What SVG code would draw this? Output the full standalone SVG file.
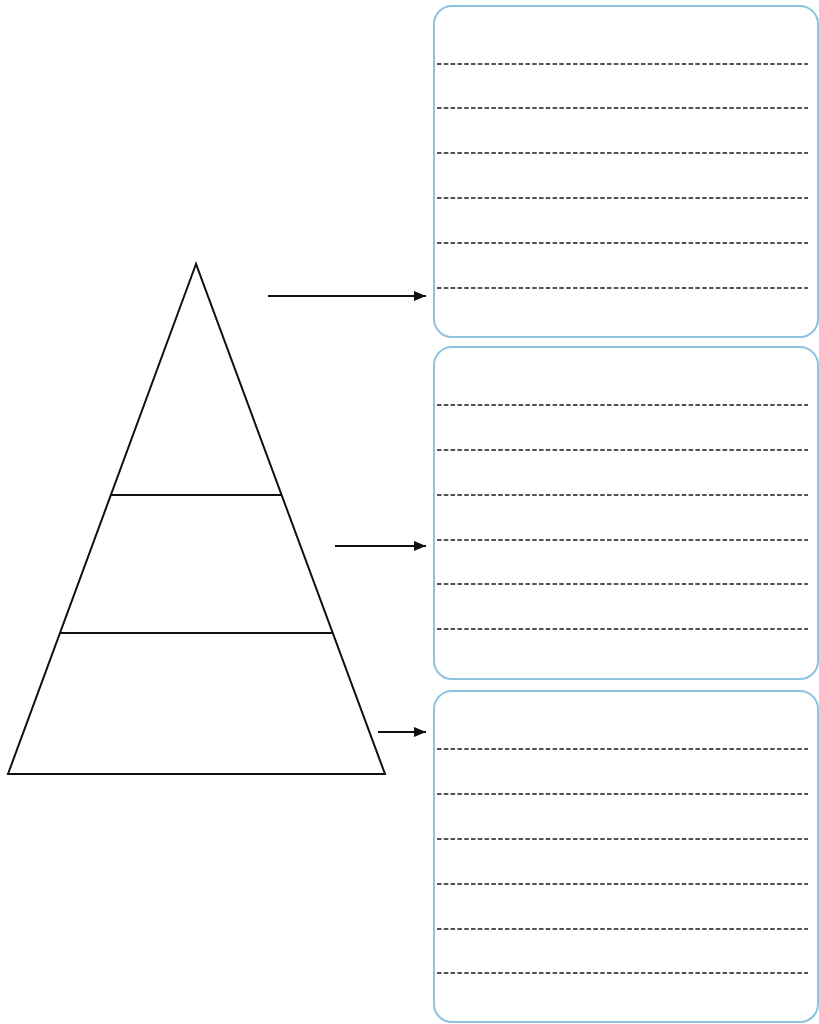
<svg xmlns="http://www.w3.org/2000/svg" width="819" height="1024" viewBox="0 0 819 1024">
<style>
.box{fill:#ffffff;stroke:#8dc3e0;stroke-width:2}
.dash{stroke:#1a1a1a;stroke-width:1.5;stroke-dasharray:4.5 2.3;fill:none}
.pyr{fill:none;stroke:#111111;stroke-width:2;stroke-linejoin:miter}
.arrow{stroke:#111111;stroke-width:2;fill:none}
</style>
<defs>
<marker id="ah" viewBox="0 0 12 10" refX="12" refY="5" markerWidth="12" markerHeight="10" markerUnits="userSpaceOnUse" orient="auto">
<path d="M0,0 L12,5 L0,10 Z" fill="#111111"/>
</marker>
</defs>
<rect width="819" height="1024" fill="#ffffff"/>
<g id="pyramid">
<path class="pyr" d="M196,264 L8,774 L385,774 Z"/>
<line class="pyr" x1="111" y1="495" x2="282" y2="495"/>
<line class="pyr" x1="60" y1="633" x2="333" y2="633"/>
</g>
<g id="box1">
<rect class="box" x="434" y="6" width="384" height="331" rx="18"/>
<g class="dash">
<line x1="437" y1="64" x2="808" y2="64"/>
<line x1="437" y1="108" x2="808" y2="108"/>
<line x1="437" y1="153" x2="808" y2="153"/>
<line x1="437" y1="198" x2="808" y2="198"/>
<line x1="437" y1="243" x2="808" y2="243"/>
<line x1="437" y1="288" x2="808" y2="288"/>
</g>
</g>
<g id="box2">
<rect class="box" x="434" y="347" width="384" height="332" rx="18"/>
<g class="dash">
<line x1="437" y1="405" x2="808" y2="405"/>
<line x1="437" y1="450" x2="808" y2="450"/>
<line x1="437" y1="495" x2="808" y2="495"/>
<line x1="437" y1="540" x2="808" y2="540"/>
<line x1="437" y1="584" x2="808" y2="584"/>
<line x1="437" y1="629" x2="808" y2="629"/>
</g>
</g>
<g id="box3">
<rect class="box" x="434" y="691" width="384" height="331" rx="18"/>
<g class="dash">
<line x1="437" y1="749" x2="808" y2="749"/>
<line x1="437" y1="794" x2="808" y2="794"/>
<line x1="437" y1="839" x2="808" y2="839"/>
<line x1="437" y1="884" x2="808" y2="884"/>
<line x1="437" y1="929" x2="808" y2="929"/>
<line x1="437" y1="973" x2="808" y2="973"/>
</g>
</g>
<g id="connectors">
<line class="arrow" x1="268" y1="296" x2="426" y2="296" marker-end="url(#ah)"/>
<line class="arrow" x1="335" y1="546" x2="426" y2="546" marker-end="url(#ah)"/>
<line class="arrow" x1="378" y1="732" x2="426" y2="732" marker-end="url(#ah)"/>
</g>
</svg>
